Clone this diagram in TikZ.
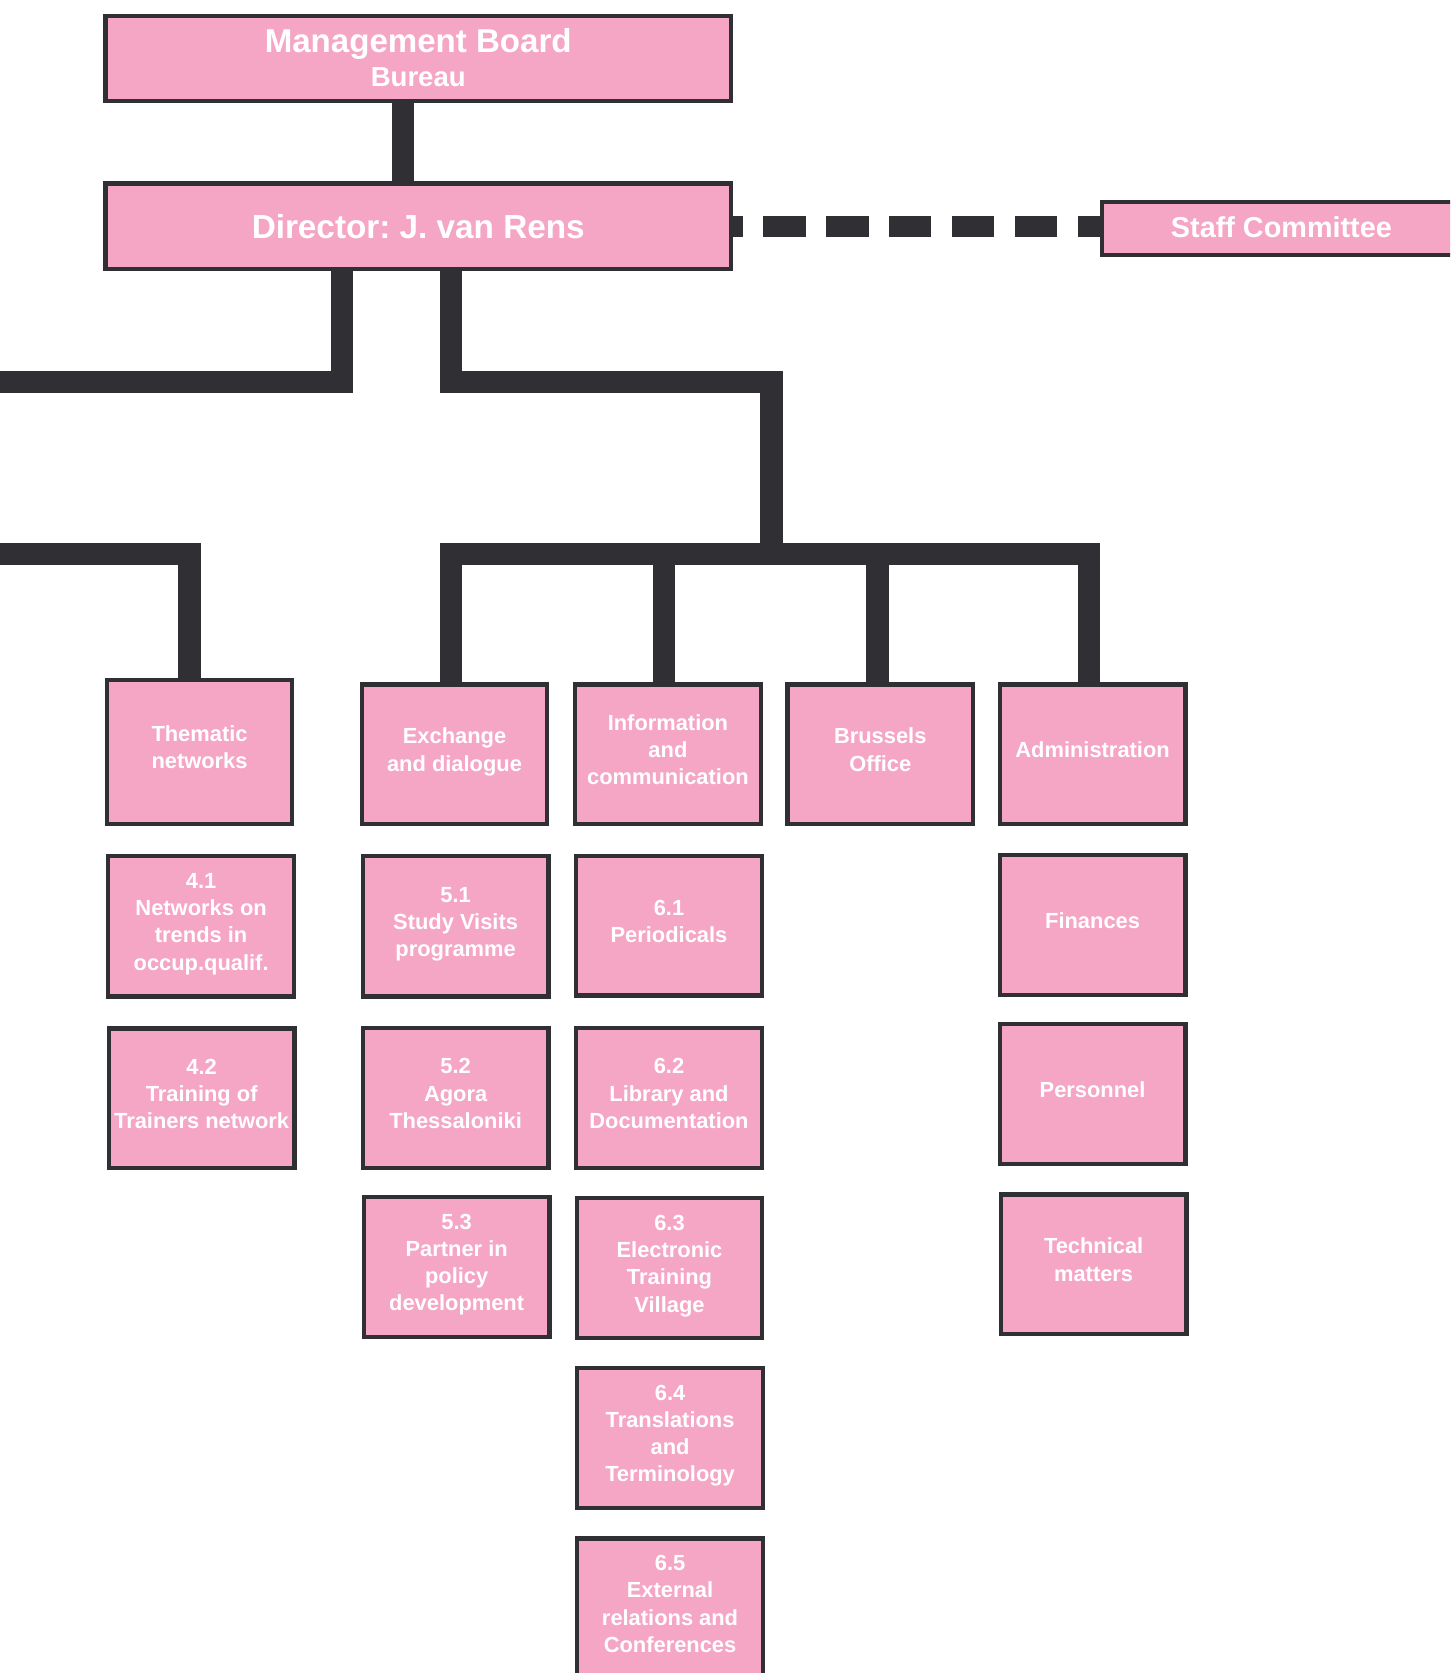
\documentclass[tikz,border=0pt]{standalone}
\usepackage{fontspec}
\setmainfont{Liberation Sans}
\definecolor{boxpink}{RGB}{245,166,196}
\definecolor{ink}{RGB}{48,48,52}
\newcommand\uptext[1]{\raisebox{1.1pt}[\height][\depth]{\begin{tabular}{@{}c@{}}#1\end{tabular}}}
\begin{document}
\frenchspacing
\begin{tikzpicture}[x=0.5pt,y=-0.5pt,
  unit/.style={draw=ink, line width=2pt, fill=boxpink, text=white,
    font=\bfseries\fontsize{10.25}{12.75}\selectfont, align=center,
    minimum width=87pt, minimum height=65.5pt, inner sep=1pt},
  head/.style={unit, minimum width=293pt, minimum height=40pt},
  conn/.style={draw=ink, line width=10.5pt, line join=miter},
  dashconn/.style={draw=ink, line width=10pt, dash pattern=on 20pt off 9.5pt, dash phase=15.5pt}]
\useasboundingbox (0,0) rectangle (1359,1568);
\fill[white] (0,0) rectangle (1359,1568);
\clip (0,0) rectangle (1359,1568);

% top boxes
\node[head, font=\bfseries\fontsize{15.5}{16}\selectfont] (mb) at (392,55)
  {\raisebox{-1.9pt}[\height][\depth]{\begin{tabular}{@{}c@{}}Management Board\\[0.3pt]{\fontsize{12.9}{14}\selectfont Bureau}\end{tabular}}};
\node[head, font=\bfseries\fontsize{15.6}{18}\selectfont] (dir) at (392,212) {Director: J. van Rens};
\node[unit, minimum width=168pt, minimum height=25pt, font=\bfseries\fontsize{13.5}{16}\selectfont] (staff) at (1201,214) {\raisebox{1pt}{Staff Committee}};

% first row
\node[unit, minimum height=67.5pt] (them) at (187,704.5) {\uptext{Thematic\\networks}};
\node[unit] (exch) at (426,707) {\uptext{Exchange\\and dialogue}};
\node[unit] (info) at (626,707) {\uptext{Information\\and\\communication}};
\node[unit] (bru) at (825,707) {\uptext{Brussels\\Office}};
\node[unit] (adm) at (1024,707) {\uptext{Administration}};

% second row
\node[unit, minimum height=66pt] (n41) at (188.5,868) {\uptext{4.1\\Networks on\\trends in\\occup.qualif.}};
\node[unit, minimum height=66pt] (n51) at (427,868) {\uptext{5.1\\Study Visits\\programme}};
\node[unit] (n61) at (627,867.5) {\uptext{6.1\\Periodicals}};
\node[unit] (fin) at (1024,867) {\uptext{Finances}};

% third row
\node[unit] (n42) at (189,1029.5) {\uptext{4.2\\Training of\\Trainers network}};
\node[unit] (n52) at (427,1029) {\uptext{5.2\\Agora\\Thessaloniki}};
\node[unit] (n62) at (627,1029) {\uptext{6.2\\Library and\\Documentation}};
\node[unit] (pers) at (1024,1025.5) {\uptext{Personnel}};

% fourth row
\node[unit] (n53) at (428,1187.5) {\uptext{5.3\\Partner in\\policy\\development}};
\node[unit] (n63) at (627.5,1188.5) {\uptext{6.3\\Electronic\\Training\\Village}};
\node[unit] (tech) at (1025,1185) {\uptext{Technical\\matters}};

% fifth and sixth rows
\node[unit] (n64) at (628,1347.5) {\uptext{6.4\\Translations\\and\\Terminology}};
\node[unit] (n65) at (628,1507.5) {\uptext{6.5\\External\\relations and\\Conferences}};

% junction coordinates
\coordinate (mbj) at (377.5,140);
\coordinate (dl) at (320.5,358);
\coordinate (lfar) at (0,358);
\coordinate (dr) at (422.5,358);
\coordinate (drr) at (723,358);
\coordinate (busA) at (422.5,519);
\coordinate (busB) at (622.5,519);
\coordinate (busC) at (822.5,519);
\coordinate (busD) at (1020.5,519);
\coordinate (busM) at (723,519);
\coordinate (lbus) at (0,519);
\coordinate (lbusC) at (177.5,519);

% connectors
\draw[conn] (mb.south -| mbj) -- (dir.north -| mbj);
\draw[conn] (dir.south -| dl) -- (dl) -- (lfar);
\draw[conn] (dir.south -| dr) -- (dr) -- (drr) -- (busM);
\draw[conn] (exch.north -| busA) -- (busA) -- (busD) -- (adm.north -| busD);
\draw[conn] (busB) -- (info.north -| busB);
\draw[conn] (busC) -- (bru.north -| busC);
\draw[conn] (lbus) -- (lbusC) -- (them.north -| lbusC);
\draw[dashconn] (dir.east) -- (dir.east -| staff.west);
\end{tikzpicture}
\end{document}
